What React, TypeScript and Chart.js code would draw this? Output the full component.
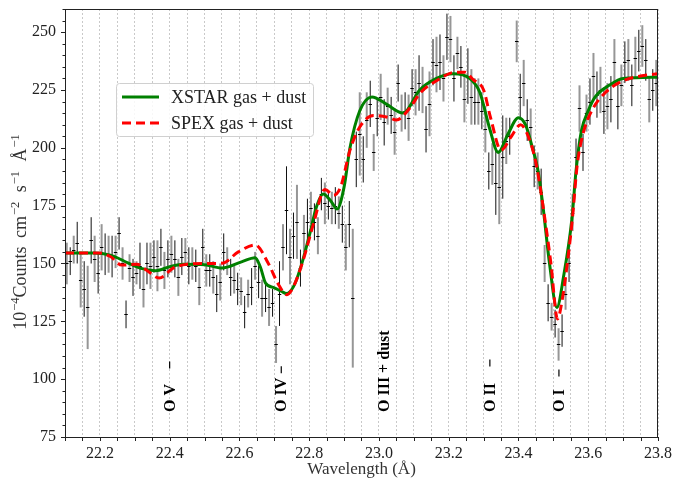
import React, { useEffect, useRef } from "react";
import { Chart, registerables } from "chart.js";
Chart.register(...registerables);

const FONT = "'Liberation Serif', 'DejaVu Serif', serif";

// ---- model curves ----
const xstarWave = [22.1,22.18,22.23,22.28,22.315,22.36,22.4,22.44,22.5,22.55,22.606,22.645,22.66,22.675,22.7,22.72,22.735,22.755,22.775,22.802,22.821,22.84,22.862,22.88,22.9,22.917,22.945,22.98,23.02,23.069,23.117,23.165,23.213,23.26,23.289,23.318,23.342,23.37,23.4,23.42,23.44,23.455,23.47,23.489,23.51,23.53,23.553,23.565,23.58,23.6,23.62,23.66,23.7,23.8];
const xstarFlux = [154.5,154.5,153.6,150.3,148,146.9,148.6,149.7,149.5,148,150.7,152.5,148.5,141.5,139.5,138,137,140,148,163,174.5,180,177,173.5,183,200,216,222,219,215,225,230,232,230,224,208,198,206,213,210,200,191,175,150,131,145,169,190,207,216,222,227,230,230.5];

const spexWave = [22.1,22.2,22.23,22.263,22.306,22.334,22.37,22.41,22.45,22.5,22.55,22.597,22.645,22.683,22.71,22.736,22.755,22.783,22.812,22.845,22.87,22.89,22.917,22.945,22.985,23.03,23.05,23.09,23.117,23.165,23.22,23.246,23.27,23.3,23.32,23.35,23.38,23.406,23.433,23.452,23.475,23.493,23.512,23.525,23.54,23.555,23.568,23.585,23.61,23.65,23.7,23.75,23.8];
const spexFlux = [154.5,154.5,153,149.3,149.7,147.1,143.7,148,149.7,150,150.1,155,158,150,141.5,136.5,140,151.5,167,182,179.5,183,199,209,214,213,212,217.5,223.5,229,232.7,232.7,229.5,225,213,199,205,210,203,192,170,150,126,134,150,170,192,206,216,224,229,231,232];

// ---- observed spectrum ----
const obsWave = [22.105,22.115,22.125,22.135,22.145,22.155,22.165,22.175,22.185,22.195,22.205,22.215,22.225,22.235,22.245,22.255,22.265,22.275,22.285,22.295,22.305,22.315,22.325,22.335,22.345,22.355,22.365,22.375,22.385,22.395,22.405,22.415,22.425,22.435,22.445,22.455,22.465,22.475,22.485,22.495,22.505,22.515,22.525,22.535,22.545,22.555,22.565,22.575,22.585,22.595,22.605,22.615,22.625,22.635,22.645,22.655,22.665,22.675,22.685,22.695,22.705,22.715,22.725,22.735,22.745,22.755,22.765,22.775,22.785,22.795,22.805,22.815,22.825,22.835,22.845,22.855,22.865,22.875,22.885,22.895,22.905,22.915,22.925,22.935,22.945,22.955,22.965,22.975,22.985,22.995,23.005,23.015,23.025,23.035,23.045,23.055,23.065,23.075,23.085,23.095,23.105,23.115,23.125,23.135,23.145,23.155,23.165,23.175,23.185,23.195,23.205,23.215,23.225,23.235,23.245,23.255,23.265,23.275,23.285,23.295,23.305,23.315,23.325,23.335,23.345,23.355,23.365,23.375,23.395,23.405,23.415,23.425,23.435,23.445,23.455,23.465,23.475,23.485,23.495,23.505,23.515,23.525,23.535,23.545,23.555,23.565,23.575,23.585,23.595,23.605,23.615,23.625,23.635,23.645,23.655,23.665,23.675,23.685,23.695,23.705,23.715,23.725,23.735,23.745,23.755,23.765,23.775,23.785,23.795];
const obsFlux = [150,151,156,159,143,139,131,160,152,146,157,154,154,153,155,163,150,128,148,144,146,149,139,150,149,153,149,157,147,152,154,152,144,153,155,149,150,149,140,157,147,147,144,137,142,155,151,144,143,139,138,129,137,140,149,142,135,135,131,133,115,137,157,173,153,162,168,148,163,168,174,168,162,180,176,175,174,175,172,167,157,167,135,195,206,195,212,219,198,213,222,211,218,214,207,228,215,216,213,226,224,228,225,208,219,237,236,237,230,248,247,230,241,235,221,231,222,220,220,216,208,190,193,185,183,196,203,205,246,222,228,212,209,192,190,181,150,133,127,124,115,121,137,150,172,196,217,198,215,220,231,223,225,216,218,221,237,218,227,237,238,227,239,242,244,238,221,225,228];
const obsErr = [9,6,6,9,12,12,18,10,10,9,10,9,8,9,7,7,7,6,6,8,5,10,8,9,10,7,11,8,8,8,8,8,8,8,6,8,7,7,8,8,7,7,7,8,8,8,6,8,6,7,6,7,6,8,6,7,8,6,8,6,8,14,10,19,12,10,16,8,8,10,7,8,8,7,9,6,7,8,7,8,10,10,30,12,18,10,12,10,8,8,10,10,8,8,10,8,8,8,10,8,10,12,10,10,14,10,12,12,10,10,10,10,7,9,10,12,12,10,10,8,10,8,9,14,16,18,10,8,9,10,10,9,8,9,8,10,8,8,6,6,7,7,7,8,8,8,10,8,8,10,10,10,10,10,10,10,10,10,9,9,9,9,9,9,9,9,10,9,10];

// ---- axes ----
const xGridTicks = [22.1,22.15,22.2,22.25,22.3,22.35,22.4,22.45,22.5,22.55,22.6,22.65,22.7,22.75,22.8,22.85,22.9,22.95,23.0,23.05,23.1,23.15,23.2,23.25,23.3,23.35,23.4,23.45,23.5,23.55,23.6,23.65,23.7,23.75,23.8];
const xTickLabels = [22.2,22.4,22.6,22.8,23.0,23.2,23.4,23.6,23.8];
const yTickValues = [75,100,125,150,175,200,225,250];

// ---- line identifications ----
const lineNames = ["O V", "O IV", "O III + dust", "O II", "O I"];
const lineWaves = [22.4, 22.72, 23.015, 23.318, 23.516];
const lineHasMinus = [true, true, false, true, true];
const lineMinusOffset = [47, 39, 0, 49, 39];

const seriesNames = ["XSTAR gas + dust", "SPEX gas + dust"];

const overlay = {
  id: "overlay",
  beforeDatasetsDraw(chart: any) {
    const { ctx, chartArea: a, scales } = chart;
    const xs = scales.x, ys = scales.y;
    ctx.save();
    ctx.beginPath();
    ctx.rect(a.left, a.top, a.right - a.left, a.bottom - a.top);
    ctx.clip();
    chart.data.datasets.forEach((ds: any, di: number) => {
      if (!ds.errs) return;
      const meta = chart.getDatasetMeta(di);
      meta.data.forEach((pt: any, i: number) => {
        const v = ds.data[i];
        const e = ds.errs[i];
        const y1 = ys.getPixelForValue(v.y - e);
        const y2 = ys.getPixelForValue(v.y + e);
        ctx.strokeStyle = ds.barColor;
        ctx.lineWidth = ds.barWidth;
        ctx.beginPath();
        ctx.moveTo(pt.x, y1);
        ctx.lineTo(pt.x, y2);
        ctx.stroke();
        const xa = xs.getPixelForValue(v.x - 0.005);
        const xb = xs.getPixelForValue(v.x + 0.005);
        ctx.strokeStyle = "#000";
        ctx.lineWidth = 1;
        ctx.beginPath();
        ctx.moveTo(xa, Math.round(pt.y) + 0.5);
        ctx.lineTo(xb, Math.round(pt.y) + 0.5);
        ctx.stroke();
      });
    });
    ctx.restore();
  },
  afterDatasetsDraw(chart: any) {
    const { ctx, chartArea: a, scales } = chart;
    const xs = scales.x, ys = scales.y;
    const L = Math.round(a.left), R = Math.round(a.right), T = Math.round(a.top), B = Math.round(a.bottom);
    ctx.save();
    // line identifications
    ctx.fillStyle = "#000";
    ctx.strokeStyle = "#000";
    lineNames.forEach((name, i) => {
      const px = xs.getPixelForValue(lineWaves[i]);
      ctx.save();
      ctx.translate(px, 412);
      ctx.rotate(-Math.PI / 2);
      ctx.font = `bold 16px ${FONT}`;
      ctx.textAlign = "left";
      ctx.textBaseline = "middle";
      ctx.fillText(name, 0, 1);
      if (lineHasMinus[i]) {
        const w = ctx.measureText(name).width;
        const c = Math.max(lineMinusOffset[i], w + 8);
        ctx.lineWidth = 1.2;
        ctx.beginPath();
        ctx.moveTo(c - 3.5, 0);
        ctx.lineTo(c + 3.5, 0);
        ctx.stroke();
      }
      ctx.restore();
    });
    // frame
    ctx.strokeStyle = "#222";
    ctx.lineWidth = 1;
    ctx.strokeRect(L + 0.5, T + 0.5, R - L - 1, B - T);
    // ticks
    ctx.beginPath();
    xGridTicks.forEach((v) => {
      const p = Math.round(xs.getPixelForValue(v)) + 0.5;
      ctx.moveTo(p, B);
      ctx.lineTo(p, B + 4);
    });
    yTickValues.forEach((v) => {
      const p = Math.round(ys.getPixelForValue(v)) + 0.5;
      ctx.moveTo(L, p);
      ctx.lineTo(L - 4, p);
    });
    for (let v = 75; v <= 260; v += 5) {
      if (v % 25 === 0) continue;
      const p = Math.round(ys.getPixelForValue(v)) + 0.5;
      ctx.moveTo(L, p);
      ctx.lineTo(L - 2.5, p);
    }
    ctx.stroke();
    // legend
    ctx.fillStyle = "rgba(255,255,255,0.85)";
    ctx.strokeStyle = "#d0d0d0";
    ctx.lineWidth = 1;
    ctx.beginPath();
    (ctx as any).roundRect(116.5, 83.5, 197, 53, 3);
    ctx.fill();
    ctx.stroke();
    const dsets = chart.data.datasets;
    [0, 1].forEach((k) => {
      const ds = dsets[k];
      const y = k === 0 ? 97 : 123;
      ctx.strokeStyle = ds.borderColor;
      ctx.lineWidth = 3;
      ctx.setLineDash(ds.borderDash || []);
      ctx.beginPath();
      ctx.moveTo(122, y);
      ctx.lineTo(159, y);
      ctx.stroke();
      ctx.setLineDash([]);
      ctx.fillStyle = "#222";
      ctx.font = `18px ${FONT}`;
      ctx.textAlign = "left";
      ctx.textBaseline = "middle";
      ctx.fillText(seriesNames[k], 171, y + 1);
    });
    // x title
    ctx.fillStyle = "#333";
    ctx.font = `17px ${FONT}`;
    ctx.textAlign = "center";
    ctx.textBaseline = "middle";
    ctx.fillText("Wavelength (Å)", (L + R) / 2, 470);
    // y title with superscripts
    const parts: [string, boolean, number][] = [
      ["10", false, 0], ["−4", true, 1], ["Counts", false, 0], [" cm", false, 4], ["−2", true, 1],
      [" s", false, 5], ["−1", true, 1], [" Å", false, 5], ["−1", true, 1],
    ];
    const baseF = `18px ${FONT}`, supF = `12.5px ${FONT}`;
    let total = 0;
    parts.forEach(([t, sup, gap]) => {
      ctx.font = sup ? supF : baseF;
      total += ctx.measureText(t).width + gap;
    });
    ctx.save();
    ctx.translate(26, 232);
    ctx.rotate(-Math.PI / 2);
    ctx.fillStyle = "#333";
    ctx.textAlign = "left";
    ctx.textBaseline = "alphabetic";
    let cx = -total / 2;
    parts.forEach(([t, sup, gap]) => {
      ctx.font = sup ? supF : baseF;
      cx += gap;
      ctx.fillText(t, cx, sup ? -7 : 0);
      cx += ctx.measureText(t).width;
    });
    ctx.restore();
    ctx.restore();
  },
};

export default function App() {
  const ref = useRef<HTMLCanvasElement | null>(null);
  useEffect(() => {
    document.body.style.margin = "0";
    const canvas = ref.current!;
    const obsA: any[] = [], obsB: any[] = [], errA: number[] = [], errB: number[] = [];
    obsWave.forEach((w, i) => {
      if (i % 2 === 0) { obsA.push({ x: w, y: obsFlux[i] }); errA.push(obsErr[i]); }
      else { obsB.push({ x: w, y: obsFlux[i] }); errB.push(obsErr[i]); }
    });
    const chart = new Chart(canvas, {
      type: "scatter",
      data: {
        datasets: [
          {
            label: seriesNames[0],
            data: xstarWave.map((w, i) => ({ x: w, y: xstarFlux[i] })),
            showLine: true, borderColor: "#008000", borderWidth: 3, pointRadius: 0,
            cubicInterpolationMode: "monotone", order: 1,
          } as any,
          {
            label: seriesNames[1],
            data: spexWave.map((w, i) => ({ x: w, y: spexFlux[i] })),
            showLine: true, borderColor: "#ff0000", borderWidth: 3, borderDash: [9, 5], pointRadius: 0,
            cubicInterpolationMode: "monotone", order: 0,
          } as any,
          { label: "obsA", data: obsA, pointRadius: 0, errs: errA, barColor: "rgba(110,110,110,0.72)", barWidth: 2, order: 3 } as any,
          { label: "obsB", data: obsB, pointRadius: 0, errs: errB, barColor: "#111", barWidth: 1, order: 2 } as any,
        ],
      },
      options: {
        animation: false,
        responsive: true,
        maintainAspectRatio: false,
        events: [],
        layout: { padding: { left: 0, right: 29, top: 9, bottom: 0 } },
        plugins: { legend: { display: false }, tooltip: { enabled: false } },
        scales: {
          x: {
            type: "linear", min: 22.1, max: 23.8,
            afterBuildTicks: (s: any) => { s.ticks = xGridTicks.map((v) => ({ value: v })); },
            afterFit: (s: any) => { s.height = 44; s.paddingLeft = 0; s.paddingRight = 0; },
            ticks: {
              autoSkip: false, maxRotation: 0, minRotation: 0, padding: 3, color: "#222",
              font: { family: FONT, size: 16 },
              callback: (v: any) => {
                const m = xTickLabels.find((t) => Math.abs(t - Number(v)) < 1e-6);
                return m === undefined ? "" : m.toFixed(1);
              },
            },
            grid: { color: "#bcbcbc", lineWidth: 0.8, drawTicks: true, tickLength: 4, tickColor: "rgba(0,0,0,0)" },
            border: { display: false, dash: [2, 2] },
          },
          y: {
            min: 75, max: 260,
            afterBuildTicks: (s: any) => { s.ticks = yTickValues.map((v) => ({ value: v })); },
            afterFit: (s: any) => { s.width = 65; s.paddingTop = 0; s.paddingBottom = 0; },
            ticks: { padding: 5, color: "#222", font: { family: FONT, size: 16 } },
            grid: { drawOnChartArea: false, drawTicks: true, tickLength: 4, tickColor: "rgba(0,0,0,0)" },
            border: { display: false },
          },
        },
      } as any,
      plugins: [overlay],
    });
    return () => chart.destroy();
  }, []);
  return (
    <div style={{ position: "absolute", left: 0, top: 0, width: 687, height: 481 }}>
      <canvas ref={ref} />
    </div>
  );
}
